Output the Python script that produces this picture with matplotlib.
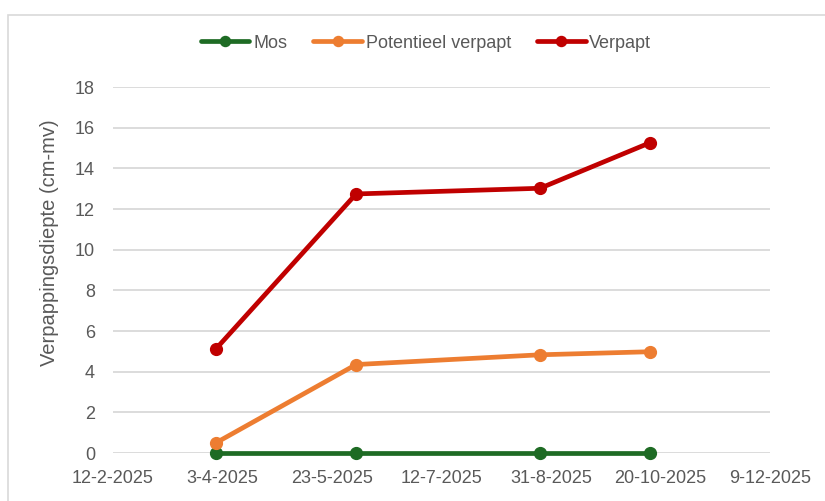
import matplotlib
matplotlib.use("Agg")
import matplotlib.pyplot as plt
from matplotlib.patches import Rectangle
import numpy as np

plt.rcParams['font.family'] = ['Liberation Sans', 'DejaVu Sans']

# meetdata
datums = np.array(['2025-03-31', '2025-06-03', '2025-08-26', '2025-10-15'], dtype='datetime64[D]')
mos = [0, 0, 0, 0]
potentieel_verpapt = [0.5, 4.35, 4.83, 4.98]
verpapt = [5.12, 12.74, 13.02, 15.25]

tick_datums = np.array(['2025-02-12', '2025-04-03', '2025-05-23', '2025-07-12',
                        '2025-08-31', '2025-10-20', '2025-12-09'], dtype='datetime64[D]')
tick_labels = ['12-2-2025', '3-4-2025', '23-5-2025', '12-7-2025',
               '31-8-2025', '20-10-2025', '9-12-2025']

W, H = 825, 501
fig = plt.figure(figsize=(W / 100, H / 100), dpi=100)
ax = fig.add_axes([113 / W, (H - 453) / H, (770 - 113) / W, (453 - 87) / H])

tekst = '#595959'
reeksen = [
    (mos, 'Mos', '#1E6B24'),
    (potentieel_verpapt, 'Potentieel verpapt', '#ED7D31'),
    (verpapt, 'Verpapt', '#C00000'),
]
for waarden, naam, kleur in reeksen:
    ax.plot(datums, waarden, color=kleur, lw=3.4, marker='o', ms=8.5,
            label=naam, solid_capstyle='round', zorder=3, clip_on=False)

ax.set_xlim(tick_datums[0], tick_datums[-1])
ax.set_ylim(0, 18)
ax.set_yticks(np.arange(0, 19, 2))
ax.set_xticks(tick_datums)
ax.set_xticklabels(tick_labels)

ax.grid(axis='y', color='#D9D9D9', lw=1.3)
ax.set_axisbelow(True)
for s in ax.spines.values():
    s.set_visible(False)
ax.tick_params(length=0, labelsize=13, labelcolor=tekst)
ax.tick_params(axis='y', pad=13)
ax.tick_params(axis='x', pad=12)

ax.set_ylabel('Verpappingsdiepte (cm-mv)', fontsize=14.5, color=tekst)
ax.yaxis.set_label_coords((59 - 113) / 657, (453 - 243) / 366)

leg = fig.legend(loc='center', bbox_to_anchor=(426 / W, 1 - 43 / H), ncol=3, frameon=False,
                 fontsize=13, handlelength=2.7, handletextpad=0.2, columnspacing=1.45,
                 labelcolor=tekst, markerscale=0.85)

# kaderrand van de grafiek
fig.patches.append(Rectangle((8 / W, -0.05), 1.1, 1 - 15 / H + 0.05, transform=fig.transFigure,
                             fill=False, edgecolor='#D9D9D9', lw=1.2, clip_on=False))

fig.savefig('out.png', dpi=100)
